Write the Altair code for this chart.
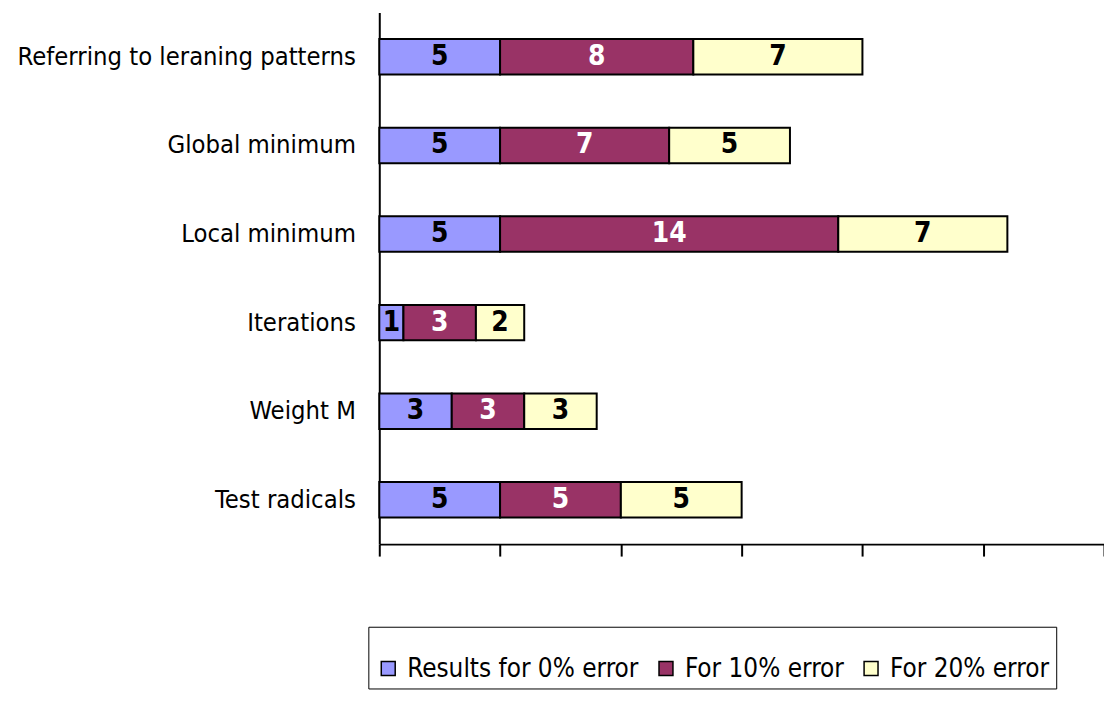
import altair as alt
import pandas as pd

categories = ["Referring to leraning patterns", "Global minimum", "Local minimum",
              "Iterations", "Weight M", "Test radicals"]
series = ["Results for 0% error", "For 10% error", "For 20% error"]
err0 = [5, 5, 5, 1, 3, 5]
err10 = [8, 7, 14, 3, 3, 5]
err20 = [7, 5, 7, 2, 3, 5]
colors = ["#9999FF", "#993366", "#FFFFCC"]

rows = []
for i, c in enumerate(categories):
    for j, (s, vals) in enumerate(zip(series, [err0, err10, err20])):
        rows.append({"category": c, "series": s, "value": vals[i], "order": j})
df = pd.DataFrame(rows)

FONT = "DejaVu Sans Condensed, Liberation Sans Narrow, sans-serif"

base = alt.Chart(df).transform_stack(
    stack="value", groupby=["category"], as_=["x0", "x1"],
    sort=[alt.SortField("order", order="ascending")]
).transform_calculate(mid="(datum.x0 + datum.x1) / 2")

y_enc = alt.Y("category:N", sort=categories, title=None,
              scale=alt.Scale(paddingInner=0.6, paddingOuter=0.3),
              axis=alt.Axis(domainColor="black", domainWidth=2, ticks=False,
                            labelFont=FONT, labelFontSize=25.5, labelColor="black",
                            labelPadding=24, labelLimit=400))

bars = base.mark_bar(stroke="black", strokeWidth=2).encode(
    y=y_enc,
    x=alt.X("x0:Q", title=None,
            scale=alt.Scale(domain=[0, 30], nice=False),
            axis=alt.Axis(values=[0, 5, 10, 15, 20, 25, 30], labels=False,
                          grid=False, domainColor="black", domainWidth=2,
                          tickColor="black", tickWidth=2, tickSize=12)),
    x2="x1:Q",
    fill=alt.Fill("series:N", sort=series,
                  scale=alt.Scale(domain=series, range=colors),
                  legend=alt.Legend(title=" ", titleFontSize=10, titlePadding=12,
                                    orient="none", direction="horizontal",
                                    columns=3, legendX=-11, legendY=617,
                                    symbolType="square", symbolSize=196,
                                    symbolStrokeColor="black", symbolStrokeWidth=1.5,
                                    labelFont=FONT, labelFontSize=26, labelColor="black",
                                    labelLimit=400, columnPadding=14, labelOffset=6,
                                    padding=7, strokeColor="black", fillColor="white")),
)

labels = base.mark_text(font=FONT, fontSize=28, fontWeight="bold").encode(
    y=alt.Y("category:N", sort=categories),
    x=alt.X("mid:Q"),
    text=alt.Text("value:Q"),
    color=alt.condition(alt.datum.series == "For 10% error",
                        alt.value("white"), alt.value("black")),
)

chart = alt.layer(bars, labels).properties(
    width=728, height=534,
    autosize=alt.AutoSizeParams(type="none"),
    padding={"left": 381, "top": 11, "right": 0, "bottom": 157},
    background="white",
).configure_view(stroke=None)

chart.save("out.html", embed_options={"renderer": "svg", "actions": False})
